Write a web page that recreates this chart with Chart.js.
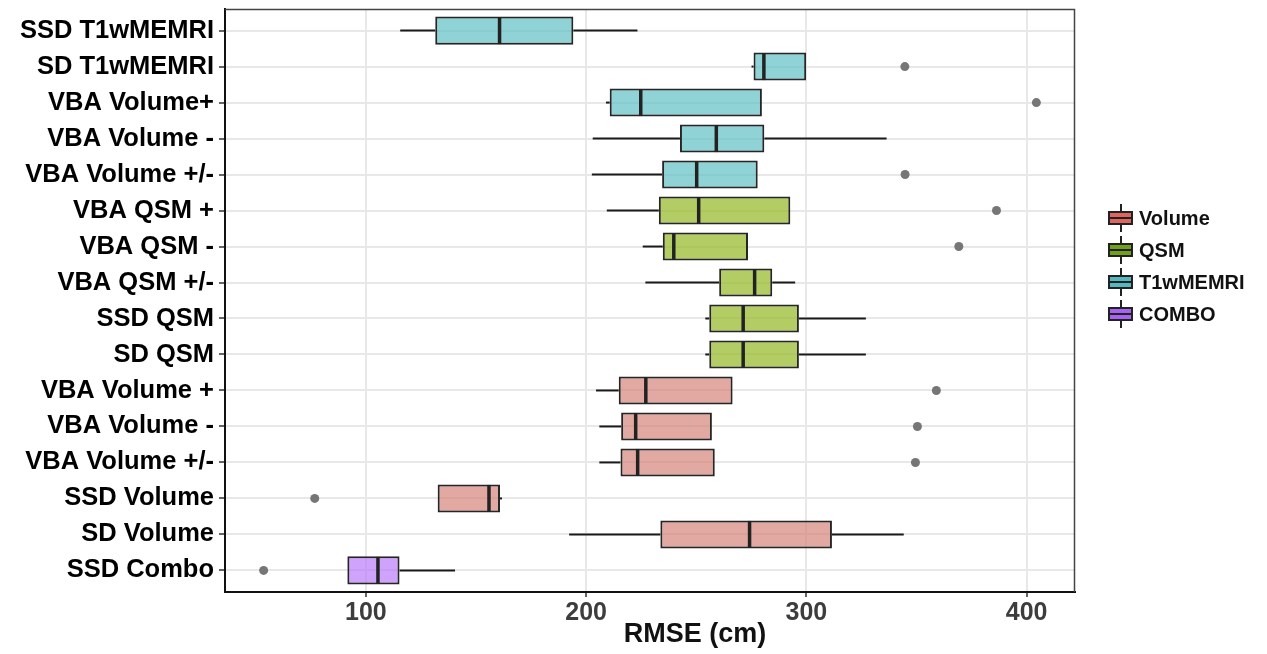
<!DOCTYPE html>
<html>
<head>
<meta charset="utf-8">
<script src="https://cdn.jsdelivr.net/npm/chart.js@4.4.1/dist/chart.umd.min.js"></script>
<style>
  html, body { margin: 0; padding: 0; background: #fff; }
  #wrap { position: relative; width: 1267px; height: 654px; }
  #legend { position: absolute; left: 1108px; top: 202px; font-family: "Liberation Sans", Arial, sans-serif; font-weight: bold; font-size: 20px; color: #111; }
  .item { position: relative; height: 32px; display: flex; align-items: center; }
  .kw { position: relative; width: 25px; height: 32px; margin-right: 6px; }
  .kw .wh { position: absolute; left: 11.5px; width: 2px; top: 2px; height: 28px; background: #222; }
  .kw .key { position: absolute; left: 0; top: 9px; width: 25px; height: 14px; box-sizing: border-box; border: 2px solid #222; }
  .kw .med { position: absolute; left: 0; width: 25px; top: 15px; height: 2px; background: #222; }
  #xtitle { position: absolute; left: 595px; width: 200px; top: 617px; text-align: center; font-family: "Liberation Sans", Arial, sans-serif; font-weight: bold; font-size: 27px; line-height: 32px; color: #111; }
</style>
</head>
<body>
<div id="wrap">
  <canvas id="c" width="1267" height="654"></canvas>
  <div id="legend"></div>
  <div id="xtitle"></div>
</div>
<script>
// ---- data (rows listed top to bottom) ----
const categories = [
  "SSD T1wMEMRI", "SD T1wMEMRI", "VBA Volume+", "VBA Volume -", "VBA Volume +/-",
  "VBA QSM +", "VBA QSM -", "VBA QSM +/-", "SSD QSM", "SD QSM",
  "VBA Volume +", "VBA Volume -", "VBA Volume +/-", "SSD Volume", "SD Volume", "SSD Combo"
];
const groups = [
  "T1wMEMRI", "T1wMEMRI", "T1wMEMRI", "T1wMEMRI", "T1wMEMRI",
  "QSM", "QSM", "QSM", "QSM", "QSM",
  "Volume", "Volume", "Volume", "Volume", "Volume", "COMBO"
];
const whiskerLow  = [115.6, 275.1, 209.0, 203.0, 202.6, 209.4, 225.7, 226.9, 254.1, 254.1, 204.5, 206.0, 206.0, 132.6, 192.3, 91.6];
const q1          = [131.5, 276.0, 210.7, 242.6, 234.5, 233.0, 234.8, 260.4, 255.9, 255.9, 214.8, 215.9, 215.6, 132.6, 233.7, 91.6];
const medians     = [160.7, 280.7, 224.8, 259.1, 250.2, 251.1, 239.8, 276.5, 271.3, 271.3, 227.1, 222.5, 223.4, 155.9, 274.2, 105.5];
const q3          = [194.2, 299.9, 279.8, 280.9, 277.9, 292.7, 273.5, 284.5, 296.6, 296.6, 266.5, 257.1, 258.4, 160.9, 311.6, 115.3];
const whiskerHigh = [223.3, 299.9, 279.8, 336.4, 277.9, 292.7, 273.5, 294.9, 327.0, 327.0, 266.5, 257.1, 258.4, 161.8, 344.2, 140.5];
const outliers    = [null, 344.7, 404.4, null, 344.8, 386.3, 369.2, null, null, null, 359.0, 350.4, 349.5, 76.8, null, 53.6];
const legendGroups = ["Volume", "QSM", "T1wMEMRI", "COMBO"];
const xTicks = [100, 200, 300, 400];
const xTitle = "RMSE (cm)";

// ---- styles ----
const boxFill = {
  Volume: "rgba(214,132,124,0.70)",
  QSM: "rgba(150,186,40,0.72)",
  T1wMEMRI: "rgba(90,190,196,0.68)",
  COMBO: "rgba(184,120,250,0.68)"
};
const keyFill = { Volume: "#dc665f", QSM: "#739f1f", T1wMEMRI: "#55b8bf", COMBO: "#a862f2" };
const FONT = '"Liberation Sans", Arial, Helvetica, sans-serif';

// axis limits with 5% expansion like ggplot
const allVals = whiskerLow.concat(whiskerHigh, outliers.filter(v => v !== null));
const lo = Math.min(...allVals), hi = Math.max(...allVals);
const pad = (hi - lo) * 0.05;

const idx = categories.map((_, i) => i);

const frame = {
  id: 'frame',
  afterDraw(chart) {
    const { ctx, chartArea: a } = chart;
    ctx.save();
    ctx.strokeStyle = '#444';
    ctx.lineWidth = 1.5;
    ctx.beginPath();
    ctx.moveTo(a.left, a.top + 0.5);
    ctx.lineTo(a.right - 0.5, a.top + 0.5);
    ctx.lineTo(a.right - 0.5, a.bottom);
    ctx.stroke();
    ctx.restore();
  }
};

new Chart(document.getElementById('c'), {
  type: 'bar',
  data: {
    datasets: [
      {
        type: 'scatter', label: 'outliers', order: 0,
        data: idx.filter(i => outliers[i] !== null).map(i => ({ x: outliers[i], y: i })),
        pointRadius: 4.5, pointBackgroundColor: '#767676', pointBorderWidth: 0, pointBorderColor: 'rgba(0,0,0,0)'
      },
      {
        type: 'scatter', label: 'median', order: 1,
        data: idx.map(i => ({ x: medians[i], y: i })),
        pointStyle: 'line', pointRotation: 90, pointRadius: 13.5, pointBorderWidth: 3.5, pointBorderColor: '#222'
      },
      {
        label: 'box', order: 2, grouped: false,
        data: idx.map(i => ({ x: [q1[i], q3[i]], y: i })),
        backgroundColor: idx.map(i => boxFill[groups[i]]),
        borderColor: '#262626', borderWidth: 2, borderSkipped: false,
        barPercentage: 0.78, categoryPercentage: 1
      },
      {
        label: 'whiskerLow', order: 3, grouped: false,
        data: idx.map(i => ({ x: [whiskerLow[i], q1[i]], y: i })),
        backgroundColor: '#1a1a1a', borderWidth: 0, maxBarThickness: 2,
        barPercentage: 0.78, categoryPercentage: 1
      },
      {
        label: 'whiskerHigh', order: 3, grouped: false,
        data: idx.map(i => ({ x: [q3[i], whiskerHigh[i]], y: i })),
        backgroundColor: '#1a1a1a', borderWidth: 0, maxBarThickness: 2,
        barPercentage: 0.78, categoryPercentage: 1
      }
    ]
  },
  options: {
    indexAxis: 'y',
    responsive: false,
    animation: false,
    events: [],
    layout: { autoPadding: false, padding: { left: 0, right: 192, top: 9, bottom: 0 } },
    plugins: { legend: { display: false }, tooltip: { enabled: false } },
    scales: {
      x: {
        type: 'linear', position: 'bottom', offset: false,
        min: lo - pad, max: hi + pad,
        afterBuildTicks(s) { s.ticks = xTicks.map(v => ({ value: v })); },
        afterFit(s) { s.height = 62; s.paddingLeft = 0; s.paddingRight = 0; },
        grid: { offset: false, color: '#e8e8e8', lineWidth: 2, tickColor: '#333', tickLength: 5, tickWidth: 1.5 },
        border: { color: '#111', width: 2 },
        ticks: { color: '#3d3d3d', font: { family: FONT, size: 25, weight: 'bold' }, padding: 1, maxRotation: 0 },
        title: { display: false }
      },
      y: {
        type: 'linear', reverse: true, offset: false,
        min: -0.6, max: categories.length - 0.4,
        afterBuildTicks(s) { s.ticks = idx.map(v => ({ value: v })); },
        afterFit(s) { s.width = 225; s.paddingTop = 0; s.paddingBottom = 0; },
        grid: { offset: false, color: '#e8e8e8', lineWidth: 2, tickColor: '#333', tickLength: 6, tickWidth: 1.5 },
        border: { color: '#111', width: 2 },
        ticks: {
          color: '#000', font: { family: FONT, size: 25.5, weight: 'bold' }, padding: 5,
          callback: v => categories[v]
        }
      }
    }
  },
  plugins: [frame]
});

document.getElementById('xtitle').textContent = xTitle;

// HTML legend
const lg = document.getElementById('legend');
legendGroups.forEach(g => {
  const it = document.createElement('div');
  it.className = 'item';
  const kw = document.createElement('div');
  kw.className = 'kw';
  const wh = document.createElement('div'); wh.className = 'wh';
  const k = document.createElement('div'); k.className = 'key'; k.style.background = keyFill[g];
  const md = document.createElement('div'); md.className = 'med';
  kw.appendChild(wh); kw.appendChild(k); kw.appendChild(md);
  const t = document.createElement('span');
  t.textContent = g;
  it.appendChild(kw); it.appendChild(t);
  lg.appendChild(it);
});
</script>
</body>
</html>
